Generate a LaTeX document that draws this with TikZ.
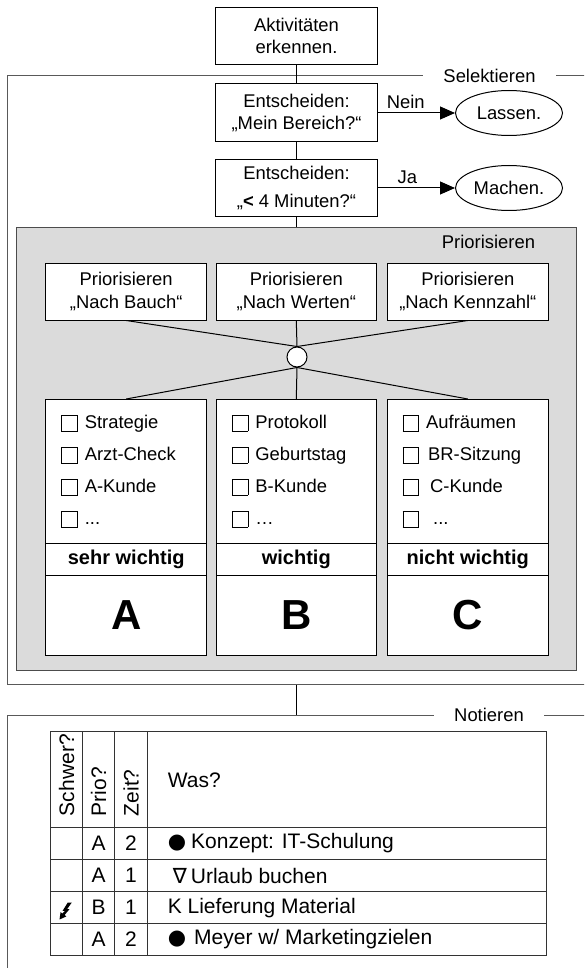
\documentclass[tikz,border=0pt]{standalone}
\usepackage{fontspec}
\setmainfont{Liberation Sans}
\newfontfamily\symfont{DejaVu Sans}
\usetikzlibrary{positioning,shapes.geometric,arrows.meta}
\newcommand{\chkbox}{\raisebox{-2pt}{\fboxsep=0pt\fboxrule=0.8pt\framebox{\rule{0pt}{15pt}\hspace{15pt}}}\hspace{7pt}}
\newcommand{\basefont}{\fontsize{18.4}{22.5}\selectfont}
\newcommand{\tabfont}{\fontsize{21}{24}\selectfont}
\begin{document}
\begin{tikzpicture}[x=1pt, y=-1pt, font=\basefont, line width=1pt,
    frame/.style={draw=black!65, inner sep=0pt, outer sep=0pt},
    tag/.style={fill=white, inner xsep=20.5pt, inner ysep=1pt},
    box/.style={draw, fill=white, align=center, minimum width=162pt, inner sep=0pt},
    oval/.style={ellipse, draw, minimum width=107pt, minimum height=45pt, inner sep=0pt},
    area/.style={draw=black!70, fill=black!14, inner sep=0pt},
    list/.style={draw, fill=white, anchor=north, minimum height=144pt, text width=130pt,
        inner xsep=15.5pt, inner ysep=0pt, outer sep=0pt, align=left, font=\fontsize{18.4}{32}\selectfont},
    rank/.style={draw, fill=white, minimum width=161pt, minimum height=32pt, inner sep=0pt,
        outer sep=0pt, font=\fontsize{20}{24}\selectfont\bfseries},
    letter/.style={draw, fill=white, minimum width=161pt, minimum height=80pt, inner sep=0pt,
        outer sep=0pt, font=\fontsize{42}{48}\selectfont\bfseries},
    link/.style={draw},
    arrow/.style={-{Triangle[length=15pt,width=13pt]}},
    grid/.style={draw=black!80},
    head/.style={font=\tabfont, rotate=90, anchor=west, inner sep=0pt}]
        \useasboundingbox (0,0) rectangle (584,968);
        \clip (0,0) rectangle (584,968);

        % Define frames
        \node (sel_frame) [frame, minimum width=593pt, minimum height=609pt, anchor=north west] at (7,75.5) {};
        \node (not_frame) [frame, minimum width=593pt, minimum height=300pt, anchor=north west] at (7,715) {};
        \node (sel_label) [tag] at (489.5,75.5) {Selektieren};
        \node (not_label) [tag] at (489,715) {Notieren};

        % Define nodes
        \node (akt) [box, minimum height=57pt] at (296.5,35.8) {Aktivitäten\\erkennen.};
        \node (decide_area) [box, minimum height=58pt] at (296.5,113) {Entscheiden:\\„Mein Bereich?“};
        \node (decide_time) [box, minimum height=57.5pt] at (296.5,188) {Entscheiden:\\[5pt]„\textbf{<} 4 Minuten?“};
        \node (lassen) [oval, right=77pt of decide_area] {Lassen.};
        \node (machen) [oval, right=77pt of decide_time] {Machen.};

        \node (prio_area) [area, minimum width=560pt, minimum height=443pt] at (296.8,449.2) {};
        \node (prio_title) [anchor=east, inner sep=0pt] at (535.5,241.7) {Priorisieren};
        \node (by_gut) [box, minimum width=161pt, minimum height=57pt] at (126.2,291.5) {Priorisieren\\„Nach Bauch“};
        \node (by_value) [box, minimum width=160pt, minimum height=57pt] at (296.3,291.5) {Priorisieren\\„Nach Werten“};
        \node (by_number) [box, minimum width=161.5pt, minimum height=57pt] at (467.8,291.5) {Priorisieren\\„Nach Kennzahl“};
        \node (hub) [circle, draw, fill=white, minimum size=20pt, inner sep=0pt] at (297,357) {};

        \node (list_a) [list] at (126.2,399) {\chkbox Strategie\\\chkbox Arzt-Check\\\chkbox A-Kunde\\\chkbox ...};
        \node (rank_a) [rank, below=0pt of list_a] {sehr wichtig};
        \node (class_a) [letter, below=0pt of rank_a] {A};
        \node (list_b) [list, text width=129pt] at (296.3,399) {\chkbox Protokoll\\\chkbox Geburtstag\\\chkbox B-Kunde\\\chkbox …};
        \node (rank_b) [rank, minimum width=160pt, below=0pt of list_b] {wichtig};
        \node (class_b) [letter, minimum width=160pt, below=0pt of rank_b] {B};
        \node (list_c) [list, text width=130.5pt] at (467.8,399) {\chkbox Aufräumen\\\chkbox\hspace{2pt}BR-Sitzung\\\chkbox\hspace{4pt}C-Kunde\\\chkbox\hspace{7pt}...};
        \node (rank_c) [rank, minimum width=161.5pt, below=0pt of list_c] {nicht wichtig};
        \node (class_c) [letter, minimum width=161.5pt, below=0pt of rank_c] {C};

        % Draw arrows
        \draw [link] (akt) -- (decide_area);
        \draw [link] (decide_area) -- (decide_time);
        \draw [link] (decide_time) -- (decide_time |- prio_area.north);
        \draw [arrow] (decide_area) -- (lassen) node[pos=0.36, above] {Nein};
        \draw [arrow] (decide_time) -- (machen) node[pos=0.38, above] {Ja};
        \foreach \n in {by_gut, by_value, by_number} \draw [link] (\n.south) -- (hub.north);
        \foreach \n in {list_a, list_b, list_c} \draw [link] (hub.south) -- (\n.north);
        \draw [link] (sel_frame.south -| akt) -- (not_frame.north -| akt);

        % Notieren table
        \draw [grid] (50.3,731.7) rectangle (546.2,955.5);
        \foreach \y in {827.5,859.5,891.7,923.5} \draw [grid] (50.3,\y) -- (546.2,\y);
        \foreach \x in {82.7,114.7,147.1} \draw [grid] (\x,731.7) -- (\x,955.5);
        \node (h_hard) [head] at (66.5,816.5) {Schwer?};
        \node (h_prio) [head] at (98.7,816.5) {Prio?};
        \node (h_time) [head] at (131,816.5) {Zeit?};
        \node (h_what) [anchor=west, font=\tabfont] at (164,780) {Was?};
        \foreach \y/\p/\t [count=\i] in {843.5/A/2, 875.6/A/1, 907.6/B/1, 939.5/A/2} {
            \node (prio_\i) [font=\tabfont] at (98.7,\y) {\p};
            \node (time_\i) [font=\tabfont] at (131,\y) {\t};
        }
        \node (what_1) [anchor=west, font=\tabfont] at (164,843.5) {{\symfont\fontsize{21}{21}\selectfont ●}\hspace{5pt}Konzept: IT-Schulung};
        \node (what_2) [anchor=west, font=\tabfont] at (164,875.6) {\hspace{5pt}{\symfont ∇}\hspace{4pt}Urlaub buchen};
        \node (what_3) [anchor=west, font=\tabfont] at (164,907.6) {K Lieferung Material};
        \node (what_4) [anchor=west, font=\tabfont] at (164,939.5) {{\symfont\fontsize{21}{21}\selectfont ●}\hspace{8pt}Meyer w/ Marketingzielen};
        \fill (67.8,902.5) -- (71.8,902.5) -- (67.2,909) -- (69.6,909) -- (64.6,915) -- (66.4,916.4)
            -- (59.5,919.5) -- (60.6,912) -- (62.4,913.6) -- (65,910.8) -- (62.6,910.8) -- cycle;
\end{tikzpicture}
\end{document}
